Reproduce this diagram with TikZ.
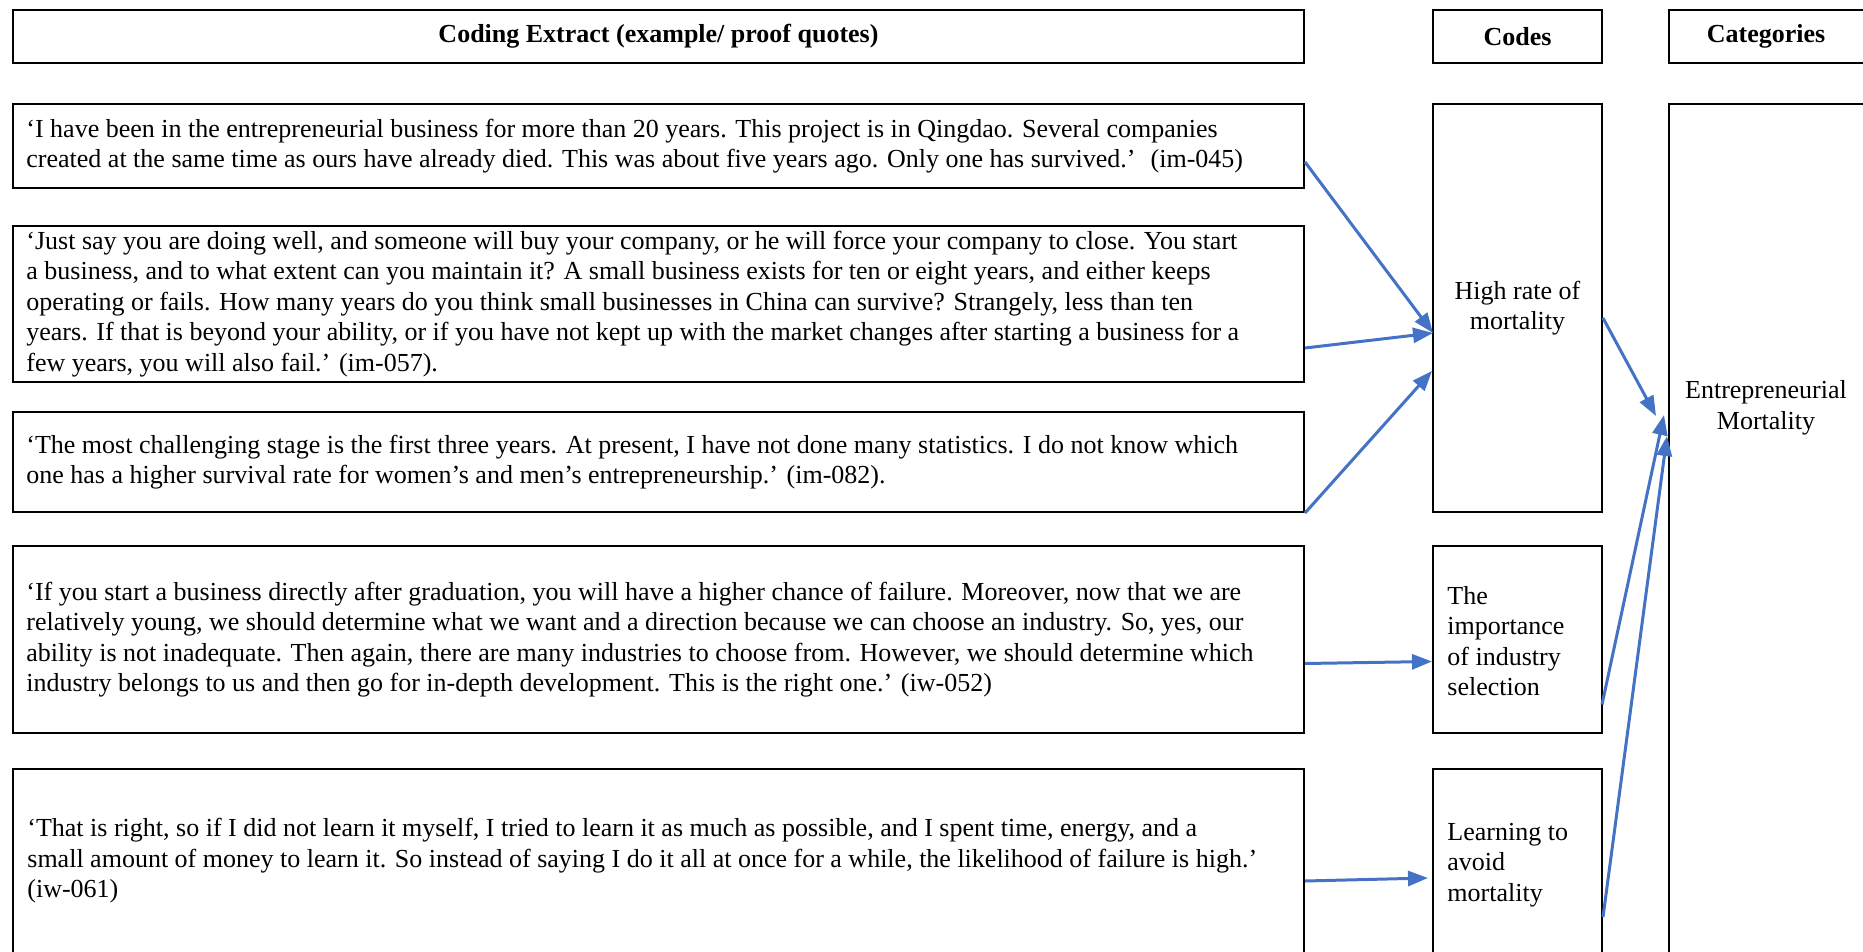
\documentclass[tikz,border=0pt]{standalone}
\usepackage{fontspec}
\setmainfont{Liberation Serif}
\usetikzlibrary{arrows.meta,calc,fit}
\definecolor{linkblue}{HTML}{4472C4}

\begin{document}
\begin{tikzpicture}[x=0.5pt, y=-0.5pt,
  every node/.style={font=\fontsize{13pt}{15.25pt}\selectfont},
  frame/.style={draw=black, line width=1pt, rectangle, inner sep=0pt},
  headtext/.style={font=\fontsize{13pt}{15.25pt}\selectfont\bfseries},
  quotetext/.style={anchor=west, align=left, inner sep=0pt},
  codetext/.style={anchor=west, align=left, inner sep=0pt},
  link/.style={draw=linkblue, line width=1.5pt, -{Triangle[length=10pt,width=7.5pt]}}
]
\useasboundingbox (0,0) rectangle (1863,952);

% column headers
\node[frame, fit={(13,10) (1304,63)}] (hL) {};
\node[frame, fit={(1433,10) (1602,63)}] (hC) {};
\node[frame, fit={(1669,10) (1870,63)}] (hK) {};
\node[headtext] (hLt) at (hL.center) {Coding Extract (example/ proof quotes)};
\node[headtext] (hCt) at (hC.center) {Codes};
\node[headtext] (hKt) at (1766,36.5) {Categories};

% quote boxes
\node[frame, fit={(13,104) (1304,188)}] (q1) {};
\node[frame, fit={(13,226) (1304,382)}] (q2) {};
\node[frame, fit={(13,412) (1304,512)}] (q3) {};
\node[frame, fit={(13,546) (1304,733)}] (q4) {};
\node[frame, fit={(13,769) (1304,962)}] (q5) {};

\node[quotetext] (t1) at ($(q1.west)+(14,0)$) {‘I have been in the entrepreneurial business for more than 20 years. This project is in Qingdao. Several companies\\created at the same time as ours have already died. This was about five years ago. Only one has survived.’~ (im-045)};
\node[quotetext] (t2) at ($(q2.west)+(14,0)$) {‘Just say you are doing well, and someone will buy your company, or he will force your company to close. You start\\a business, and to what extent can you maintain it? A small business exists for ten or eight years, and either keeps\\operating or fails. How many years do you think small businesses in China can survive? Strangely, less than ten\\years. If that is beyond your ability, or if you have not kept up with the market changes after starting a business for a\\few years, you will also fail.’ (im-057).};
\node[quotetext] (t3) at ($(q3.west)+(14,0)$) {‘The most challenging stage is the first three years. At present, I have not done many statistics. I do not know which\\one has a higher survival rate for women’s and men’s entrepreneurship.’ (im-082).};
\node[quotetext] (t4) at ($(q4.west)+(14,0)$) {‘If you start a business directly after graduation, you will have a higher chance of failure. Moreover, now that we are\\relatively young, we should determine what we want and a direction because we can choose an industry. So, yes, our\\ability is not inadequate. Then again, there are many industries to choose from. However, we should determine which\\industry belongs to us and then go for in-depth development. This is the right one.’ (iw-052)};
\node[quotetext] (t5) at (27,861) {‘That is right, so if I did not learn it myself, I tried to learn it as much as possible, and I spent time, energy, and a\\small amount of money to learn it. So instead of saying I do it all at once for a while, the likelihood of failure is high.’\\(iw-061)};

% code boxes
\node[frame, fit={(1433,104) (1602,512)}] (c1) {};
\node[frame, fit={(1433,546) (1602,733)}] (c2) {};
\node[frame, fit={(1433,769) (1602,962)}] (c3) {};
\node[align=center] (c1t) at (c1.center) {High rate of\\mortality};
\node[codetext] (c2t) at (1447,641) {The\\importance\\of industry\\selection};
\node[codetext] (c3t) at (1447,865) {Learning to\\avoid\\mortality};

% category box
\node[frame, fit={(1669,104) (1870,962)}] (k1) {};
\node[align=center] (k1t) at (1766,408) {Entrepreneurial\\Mortality};

% quotes to codes
\draw[link] ($(q1.east)+(0,16)$) -- ($(c1.west)+(1,25)$);
\draw[link] ($(q2.east)+(0,44)$) -- ($(c1.west)+(1,25)$);
\draw[link] (q3.south east) -- ($(c1.west)+(0,63)$);
\draw[link] ($(q4.east)+(0,24)$) -- ($(c2.west)+(0,22)$);
\draw[link] ($(q5.north east)+(0,113)$) -- ($(c3.north west)+(-4,110)$);

% codes to category
\draw[link] ($(c1.east)+(0,10)$) -- ($(k1.north west)+(-12,313)$);
\draw[link] ($(c2.east)+(-1,65)$) -- ($(k1.north west)+(-4,312)$);
\draw[link] ($(c3.north east)+(0,149)$) -- ($(k1.north west)+(-1,333)$);
\end{tikzpicture}
\end{document}
